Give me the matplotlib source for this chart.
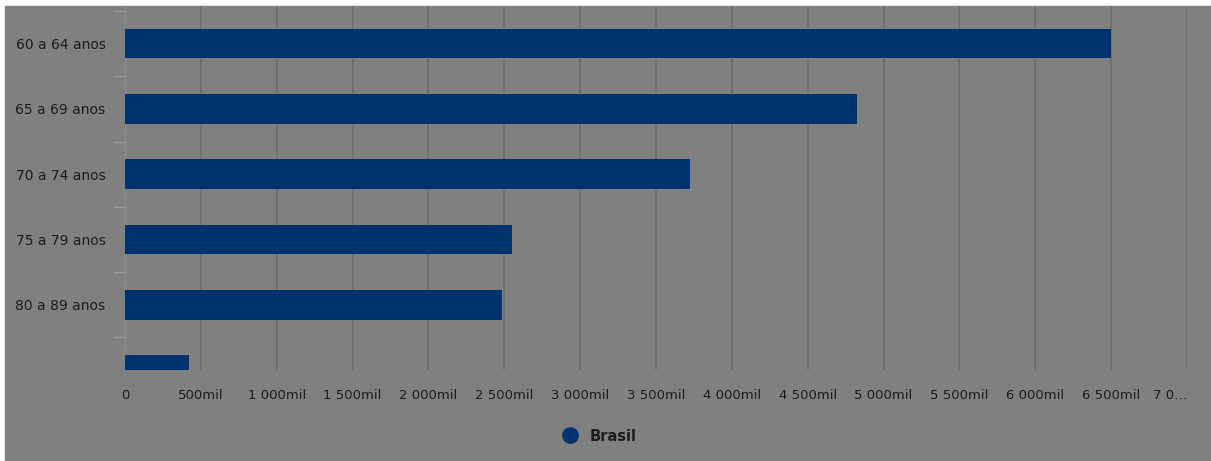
import matplotlib.pyplot as plt
from matplotlib.patches import Rectangle
from matplotlib.lines import Line2D
import numpy as np

# faixas etarias (a ultima fica sem rotulo no grafico original)
faixas = ['60 a 64 anos', '65 a 69 anos', '70 a 74 anos', '75 a 79 anos', '80 a 89 anos', '']
populacao = [6500000, 4825000, 3725000, 2550000, 2485000, 420000]
xticks = np.arange(0, 7000001, 500000)
xlabels = ['0', '500mil', '1 000mil', '1 500mil', '2 000mil', '2 500mil', '3 000mil',
           '3 500mil', '4 000mil', '4 500mil', '5 000mil', '5 500mil', '6 000mil',
           '6 500mil', '7 0…']

W, H = 1211, 461
bg = '#808080'
navy = '#00336e'
txt = '#1c1c1c'
plt.rcParams['font.family'] = ['DejaVu Sans']

fig = plt.figure(figsize=(W / 100, H / 100), dpi=100, facecolor='white')
fig.patches.append(Rectangle((5 / W, 0), 1, 1 - 6 / H,
                             transform=fig.transFigure, color=bg, zorder=-10))

ax = fig.add_axes([125 / W, 1 - 370 / H, (1187 - 125) / W, (370 - 6) / H])
ax.set_facecolor(bg)

y = np.arange(len(faixas))
ax.barh(y, populacao, height=0.455, color=navy, zorder=3)

ax.set_xlim(0, 7000000)
ax.set_ylim(5 - 4 / 66, -38 / 66)

ax.set_xticks(xticks)
ax.set_xticklabels(xlabels)
ax.xaxis.grid(True, color='#6c6c6c', lw=1.1)
ax.tick_params(axis='x', length=0, pad=14, labelsize=9.5, labelcolor=txt)
ax.get_xticklabels()[-1].set_horizontalalignment('right')

ax.set_yticks(y)
ax.set_yticklabels(faixas)
ax.set_yticks(np.arange(-0.5, 5, 1), minor=True)
ax.tick_params(axis='y', which='major', length=0, pad=14, labelsize=10, labelcolor=txt)
ax.tick_params(axis='y', which='minor', length=8, color='#9a9a9a', width=1)

for s in ['top', 'right', 'bottom']:
    ax.spines[s].set_visible(False)
ax.spines['left'].set_color('#8c8c8c')

handle = Line2D([], [], marker='o', ls='', color=navy, markersize=11)
leg = fig.legend([handle], ['Brasil'], loc='center', bbox_to_anchor=(596 / W, 1 - 436 / H),
                 frameon=False, handletextpad=0.3, prop={'weight': 'bold', 'size': 10.5})
for t in leg.get_texts():
    t.set_color(txt)

fig.savefig('out.png', dpi=100, facecolor='white')
